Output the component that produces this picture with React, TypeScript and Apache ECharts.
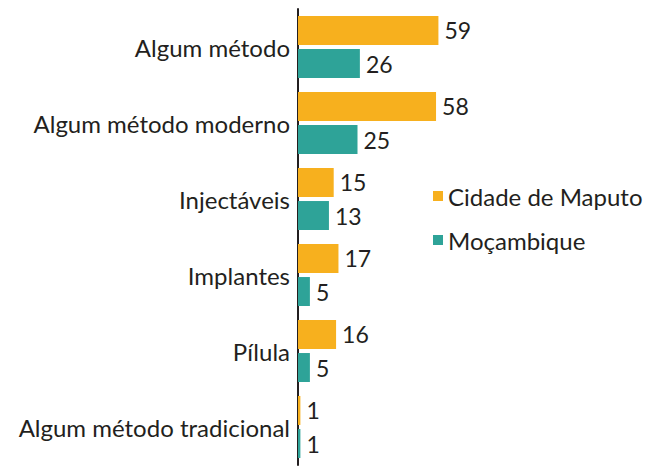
import React, { useEffect, useRef } from "react";
import * as echarts from "echarts";

const categories = [
  "Algum método",
  "Algum método moderno",
  "Injectáveis",
  "Implantes",
  "Pílula",
  "Algum método tradicional",
];
const seriesNames = ["Cidade de Maputo", "Moçambique"];
const maputo = [59, 58, 15, 17, 16, 1];
const mocambique = [26, 25, 13, 5, 5, 1];

const FONT = "Lato";
const TEXT = "#231f20";

export default function App() {
  const ref = useRef<HTMLDivElement>(null);
  useEffect(() => {
    const chart = echarts.init(ref.current!, null, { renderer: "svg" });
    chart.setOption({
      animation: false,
      textStyle: { fontFamily: FONT },
      legend: {
        orient: "vertical",
        left: 428,
        top: 179,
        itemWidth: 10,
        itemHeight: 10,
        itemGap: 20,
        icon: "rect",
        textStyle: { fontSize: 24, color: TEXT, fontFamily: FONT },
        data: seriesNames,
      },
      grid: { left: 298, right: 111, top: 9, height: 456, containLabel: false },
      xAxis: {
        type: "value",
        min: 0,
        max: 100,
        show: false,
      },
      yAxis: {
        type: "category",
        data: categories,
        inverse: true,
        axisLine: { show: true, lineStyle: { color: "#231f20", width: 2 } },
        axisTick: { show: false },
        axisLabel: { fontSize: 24, color: TEXT, margin: 8, fontFamily: FONT, padding: [0, 0, 8, 0] },
      },
      series: [
        {
          name: seriesNames[0],
          type: "bar",
          data: maputo,
          barWidth: 29,
          barGap: "14%",
          itemStyle: { color: "#f7b01e" },
          label: { show: true, position: "right", distance: 6, fontSize: 23, color: TEXT, fontFamily: FONT, padding: [0, 0, 4, 0] },
        },
        {
          name: seriesNames[1],
          type: "bar",
          data: mocambique,
          barWidth: 29,
          barGap: "14%",
          itemStyle: { color: "#2ea398" },
          label: { show: true, position: "right", distance: 6, fontSize: 23, color: TEXT, fontFamily: FONT, padding: [0, 0, 4, 0] },
        },
      ],
    });
    return () => chart.dispose();
  }, []);
  return <div ref={ref} style={{ width: 647, height: 466, position: "absolute", left: 0, top: 0 }} />;
}
